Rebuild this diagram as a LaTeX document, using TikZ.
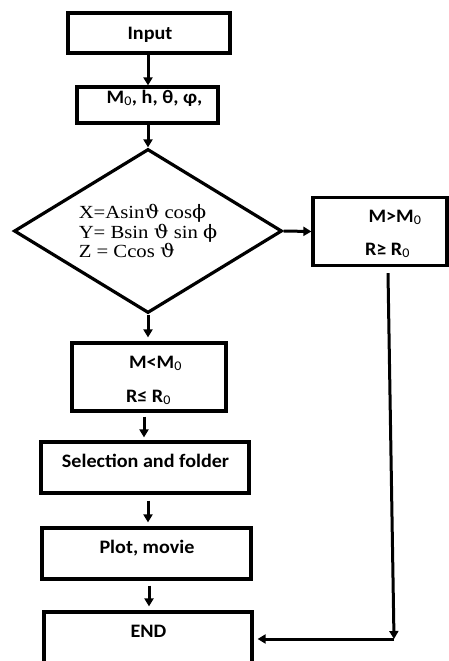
\documentclass[tikz,border=0pt]{standalone}
\usepackage{fontspec}
\usepackage{graphicx}
\setmainfont{Liberation Serif}
\newfontfamily\carlito{Carlito}
\newfontfamily\dvs{DejaVu Serif}
\newcommand\boxfont{\carlito\bfseries\fontsize{19}{22}\selectfont}
\newcommand\bt[1]{\scalebox{1.06}[1]{#1}}
\newcommand\sub[1]{\textsubscript{\mdseries #1}}
\newcommand\vth{{\dvs ϑ}}
\newcommand\vph{{\dvs ϕ}}
\usetikzlibrary{shapes.geometric,arrows.meta,calc}
\begin{document}
\begin{tikzpicture}[x=1pt,y=-1pt,
  box/.style={draw,line width=3.2pt,inner sep=0pt},
  lbl/.style={anchor=base,inner sep=0pt,font=\boxfont},
  arr/.style={line width=3pt,-{Triangle[width=9pt,length=8pt]}},
  seg/.style={line width=3pt}]
\useasboundingbox (0,0) rectangle (449,661);
% boxes
\node[box,minimum width=162,minimum height=40] (input) at (149,33) {};
\node[box,minimum width=141,minimum height=36] (par) at (147.5,105) {};
\node[box,shape=diamond,aspect=1.6,minimum width=268,minimum height=164,align=left,
      font=\fontsize{18.5}{14.5}\selectfont] (diam) at (148,231)
  {\scalebox{1.12}[1]{X=Asin\vth{} cos\vph}\\
   \scalebox{1.12}[1]{Y= Bsin \vth{} sin \vph}\\
   \scalebox{1.12}[1]{Z = Ccos \vth}};
\node[box,minimum width=134,minimum height=68] (mg) at (380,231.5) {};
\node[box,minimum width=154,minimum height=68] (ml) at (149,377) {};
\node[box,minimum width=208,minimum height=51] (sel) at (145,467.5) {};
\node[box,minimum width=209,minimum height=51] (plot) at (146.5,553.5) {};
\node[box,minimum width=208,minimum height=60] (endb) at (148,642) {};
% texts
\node[lbl] (tinput) at (150,40) {\bt{Input}};
\node[lbl] (tpar) at (154.5,103) {\bt{M\sub{0}, h, θ, φ,}};
\node[lbl] (tmg1) at (395,222) {\bt{M>M\sub{0}}};
\node[lbl] (tmg2) at (387.5,255) {\bt{R≥ R\sub{0}}};
\node[lbl] (tml1) at (155.5,368) {\bt{M<M\sub{0}}};
\node[lbl] (tml2) at (148.5,402) {\bt{R≤ R\sub{0}}};
\node[lbl] (tsel) at (145.5,467) {\bt{Selection and folder}};
\node[lbl] (tplot) at (147,553) {\bt{Plot, movie}};
\node[lbl] (tend) at (148.5,637) {\bt{END}};
% connectors
\draw[arr] (input.south -| diam.north) -- (par.north -| diam.north);
\draw[arr] (par.south -| diam.north) -- (diam.north);
\draw[arr,shorten >=4pt] (diam.south) -- (ml.north -| diam.south);
\draw[arr] (diam.east) -- (mg.west);
\draw[arr,shorten <=4pt,shorten >=3pt] ($(ml.south)+(-5,0)$) -- ($(sel.north)+(-1,0)$);
\draw[arr,shorten <=6pt,shorten >=4pt] ($(sel.south)+(3,0)$) -- ($(plot.north)+(1.5,0)$);
\draw[arr,shorten <=5pt,shorten >=4pt] ($(plot.south)+(2.5,0)$) -- ($(endb.north)+(1,0)$);
\coordinate (s) at ($(mg.south)+(8,6)$);
\coordinate (c) at (394,639);
\draw[arr] (s) -- (c);
\draw[arr,shorten >=4pt] (c) -- (endb.east |- c);
\end{tikzpicture}
\end{document}
